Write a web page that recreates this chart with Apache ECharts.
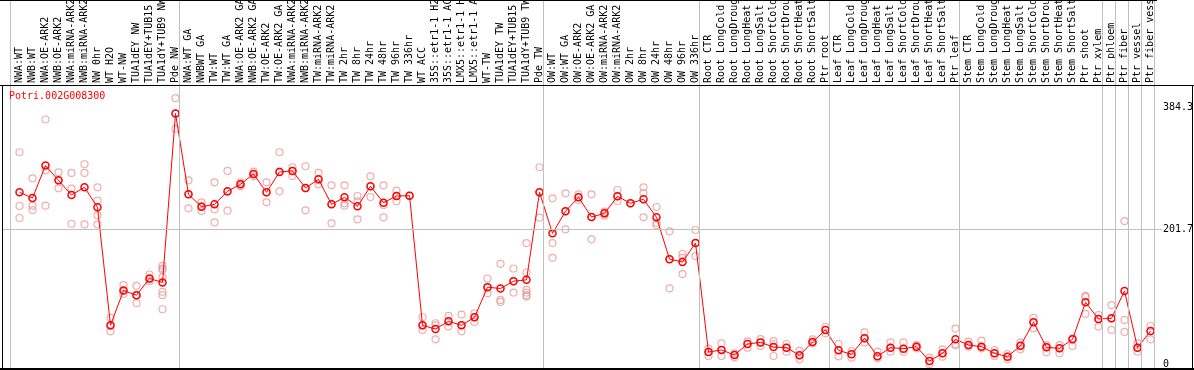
<!DOCTYPE html>
<html>
<head>
<meta charset="utf-8">
<script src="https://cdn.jsdelivr.net/npm/echarts@6.0.0/dist/echarts.min.js"></script>
<style>
html,body{margin:0;padding:0;background:#fff;}
#chart{width:1194px;height:370px;}
</style>
</head>
<body>
<div id="chart"></div>
<script>
const geneId = 'Potri.002G008300';

const categories = [
  'NWA:WT','NWB:WT','NWA:OE-ARK2','NWB:OE-ARK2','NWA:miRNA-ARK2','NWB:miRNA-ARK2','NW 0hr','WT H2O','WT-NW',
  'TUA1dEY NW','TUA1dEY+TUB15 NW','TUA1dY+TUB9 NW','Pde NW',
  'NWA:WT GA','NWBWT GA','TW:WT','TW:WT GA','NWA:OE-ARK2 GA','NWB:OE-ARK2 GA','TW:OE-ARK2','TW:OE-ARK2 GA',
  'NWA:miRNA-ARK2 GA','NWB:miRNA-ARK2 GA','TW:miRNA-ARK2','TW:miRNA-ARK2 GA',
  'TW 2hr','TW 8hr','TW 24hr','TW 48hr','TW 96hr','TW 336hr',
  'WT ACC','35S::etr1-1 H2O','35S::etr1-1 ACC','LMX5::etr1-1 H2O','LMX5::etr1-1 ACC',
  'WT-TW','TUA1dEY TW','TUA1dEY+TUB15 TW','TUA1dY+TUB9 TW','Pde TW',
  'OW:WT','OW:WT GA','OW:OE-ARK2','OW:OE-ARK2 GA','OW:miRNA-ARK2','OW:miRNA-ARK2 GA',
  'OW 2hr','OW 8hr','OW 24hr','OW 48hr','OW 96hr','OW 336hr',
  'Root CTR','Root LongCold','Root LongDrought','Root LongHeat','Root LongSalt','Root ShortCold','Root ShortDrought','Root ShortHeat','Root ShortSalt','Ptr root',
  'Leaf CTR','Leaf LongCold','Leaf LongDrought','Leaf LongHeat','Leaf LongSalt','Leaf ShortCold','Leaf ShortDrought','Leaf ShortHeat','Leaf ShortSalt','Ptr leaf',
  'Stem CTR','Stem LongCold','Stem LongDrought','Stem LongHeat','Stem LongSalt','Stem ShortCold','Stem ShortDrought','Stem ShortHeat','Stem ShortSalt',
  'Ptr shoot','Ptr xylem','Ptr phloem','Ptr fiber','Ptr vessel','Ptr fiber vessel'
];

const means = [
  257, 248.5, 297, 275, 253, 264.5, 234.5, 58, 110, 103, 128, 122, 375,
  254, 235.5, 239, 258.5, 269, 284.5, 257, 287.5, 289, 263.5, 276.5, 239,
  249.5, 236, 266, 241.5, 251.5, 252, 58, 52.4, 64, 58, 70,
  115, 113, 124, 126, 257,
  195.6, 228.6, 249.5, 220, 225.5, 251, 240.6, 246.6, 219.6, 157, 152.7, 181,
  18, 21, 13.5, 30, 32.4, 25.4, 24.5, 13, 33, 51,
  20.5, 14.5, 38.4, 11.5, 24.5, 23, 26, 4.5, 16, 37,
  28.4, 26, 16, 11, 27.4, 62.4, 25, 23.5, 37,
  92.4, 67.4, 68.4, 109.3, 24.5, 49.4
];

const replicates = [
  [317, 236.5, 218.6], [278, 237, 230.5], [366, 290, 237], [287, 275, 263], [286, 262.5, 210],
  [299, 286, 209], [264.5, 244.5, 222.6, 209], [69, 57, 49], [118, 110, 105], [117, 103, 91],
  [134, 127, 124], [147, 143, 141, 130, 108, 103, 82], [398, 375, 352],
  [275, 254, 233], [242, 236, 229], [272, 231.5, 212], [289, 258, 229.5], [272, 269, 266],
  [288, 284, 281], [272, 257, 242], [317, 288, 258.5], [294.5, 289, 281.4], [296, 263, 230],
  [286, 276, 269], [267.5, 239, 210.6], [267.5, 240.6, 237], [251.5, 243.5, 216.6], [281, 266, 250],
  [267.5, 238, 219.6], [259.5, 251.5, 243.5], [252], [70, 58, 51], [61, 58, 37],
  [72, 64, 56], [74, 58, 49], [76, 70, 63], [128, 115, 106], [150, 96, 93],
  [143, 124, 107], [181, 137, 111, 107, 103, 101], [294.5, 257, 219],
  [248, 181, 159], [255.5, 228.6, 201.6], [254, 249.5, 245.5], [254, 220, 186.6], [228, 225.5, 222],
  [260.5, 251, 244], [240.6], [264.5, 256, 219.6], [235, 211.6, 208], [198.6, 157, 113.3],
  [164.7, 159, 134.7], [200.6, 181, 161.7],
  [23, 18, 12], [31, 21, 12], [16, 13.5, 10], [34, 30, 24.5], [37.4, 32.4, 27],
  [34.4, 30, 12], [30, 24.5, 18.5], [20, 13, 7], [37, 33, 31], [55.4, 51, 46],
  [30, 20.5, 11.5], [19.5, 14.5, 9.5], [47.4, 38.4, 32.4], [18.5, 11.5, 8.5], [32.4, 24.5, 18.5],
  [32.4, 23, 18.5], [28.4, 26, 23.5], [9.5, 4.5, 0], [22, 16, 11], [53, 30, 28],
  [33.4, 28.4, 26], [35, 26, 23.5], [21, 16, 12], [15, 11, 7], [32.4, 27.4, 22],
  [69.3, 62.4, 53.4], [28.4, 25, 17.5], [28.4, 23.5, 16], [38.4, 37, 27],
  [102, 100, 75], [73.4, 67, 56], [88.3, 68, 51], [214, 66, 48], [31, 24.5, 18.5], [56.9, 49.4, 37]
];

const yTickLabels = [0, 201.7, 384.3];
const midGridValue = 201.7;
// index of the last category in each group (-1 = before first)
const groupEnds = [-1, 12, 40, 52, 62, 72, 83, 84, 85, 86, 87];

// ---- layout constants ----
const FONT = 'DejaVu Sans Mono';
const plotLeft = 2, plotRight = 1162, plotTop = 85.5, plotBottom = 368.5;
const catLeft = 13, catWidth = 1144; // category band area
const yMin = -6.7, yMax = 416.9;
const pxPerUnit = (plotBottom - plotTop) / (yMax - yMin);
const yMaxFull = yMax + plotTop / pxPerUnit;
const band = catWidth / categories.length;
const xMin = -0.5 - (catLeft - plotLeft) / band;
const xMax = xMin + (plotRight - plotLeft) / band;
const sepOffset = 0.3;

const repData = [];
replicates.forEach((arr, i) => arr.forEach(v => repData.push([i, v])));

const chart = echarts.init(document.getElementById('chart'), null, {renderer: 'canvas'});

chart.setOption({
  animation: false,
  backgroundColor: '#fff',
  title: {
    text: geneId, left: 9, top: 91, padding: 0, z: 50,
    textStyle: {fontFamily: FONT, fontSize: 10, fontWeight: 'normal', color: '#ff0000', lineHeight: 11}
  },
  grid: [
    {left: plotLeft, top: 0, width: plotRight - plotLeft, height: plotBottom,
     containLabel: false, outerBoundsMode: 'none'},
    {left: catLeft, top: plotTop, width: catWidth, height: plotBottom - plotTop,
     containLabel: false, outerBoundsMode: 'none'}
  ],
  xAxis: [
    {gridIndex: 0, type: 'value', min: xMin, max: xMax, show: false},
    {gridIndex: 1, type: 'category', data: categories, position: 'top', boundaryGap: true,
     axisLine: {show: false}, axisTick: {show: false}, splitLine: {show: false},
     axisLabel: {interval: 0, rotate: 90, margin: 2.5, align: 'left', verticalAlign: 'middle',
                 fontFamily: FONT, fontSize: 10, color: '#000', hideOverlap: false}}
  ],
  yAxis: [
    {gridIndex: 0, type: 'value', min: yMin, max: yMaxFull, position: 'right',
     axisLine: {show: false}, axisTick: {show: false}, splitLine: {show: false},
     axisLabel: {customValues: yTickLabels, margin: 1, fontFamily: FONT, fontSize: 10, color: '#000',
                 formatter: v => String(v)}},
    {gridIndex: 1, type: 'value', min: yMin, max: yMax, show: false}
  ],
  series: [
    {
      type: 'scatter', xAxisIndex: 0, yAxisIndex: 0, data: [[xMin, yMin]], symbolSize: 0, silent: true, z: 1,
      markLine: {
        silent: true, symbol: 'none', animation: false,
        label: {show: false},
        lineStyle: {color: '#c0c0c0', width: 1, type: 'solid'},
        emphasis: {disabled: true},
        data: groupEnds.map(k => ({xAxis: k + sepOffset})).concat([{yAxis: midGridValue}])
      }
    },
    {
      type: 'scatter', xAxisIndex: 1, yAxisIndex: 1, data: repData, z: 2,
      symbol: 'circle', symbolSize: 7,
      itemStyle: {color: 'rgba(0,0,0,0)', borderColor: '#ea9a9a', borderWidth: 1.2},
      emphasis: {disabled: true}
    },
    {
      type: 'line', xAxisIndex: 1, yAxisIndex: 1, data: means, z: 3,
      symbol: 'circle', symbolSize: 7, showAllSymbol: true,
      lineStyle: {color: '#ff0000', width: 1},
      itemStyle: {color: 'rgba(0,0,0,0)', borderColor: '#ff0000', borderWidth: 1.5},
      emphasis: {disabled: true}
    }
  ],
  graphic: [
    {type: 'rect', z: 100, shape: {x: 0, y: 0, width: 1157, height: 1}, style: {fill: '#000'}},
    {type: 'rect', z: 100, shape: {x: 0, y: 85, width: 1194, height: 1}, style: {fill: '#000'}},
    {type: 'rect', z: 100, shape: {x: 2, y: 85, width: 1, height: 285}, style: {fill: '#000'}},
    {type: 'rect', z: 100, shape: {x: 1192, y: 85, width: 1, height: 285}, style: {fill: '#000'}},
    {type: 'rect', z: 100, shape: {x: 0, y: 368, width: 1194, height: 2}, style: {fill: '#000'}}
  ]
});
</script>
</body>
</html>
